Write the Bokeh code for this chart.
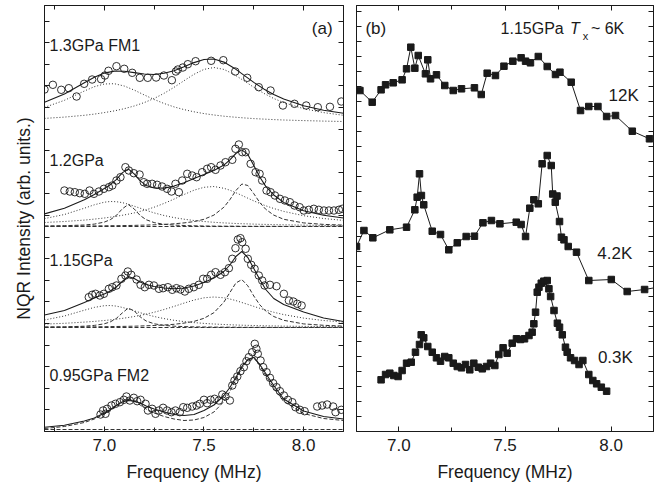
from bokeh.plotting import figure
from bokeh.models import Range1d, LinearAxis, FixedTicker, Span, Label, PrintfTickFormatter
from bokeh.layouts import row
from bokeh.embed import file_html
from bokeh.resources import INLINE

FONT = "Liberation Sans"
INK = "#1a1a1a"
COMP = "#333333"

# ---------------- panel (a): measured spectra (open circles) ----------------
SPEC1_X = [6.700, 6.742, 6.784, 6.822, 6.861, 6.899, 6.939, 6.984, 7.003, 7.021,
           7.061, 7.100, 7.140, 7.178, 7.218, 7.260, 7.299, 7.339, 7.359, 7.369,
           7.394, 7.419, 7.458, 7.536, 7.597, 7.657, 7.717, 7.775, 7.834, 7.896,
           7.954, 8.013, 8.071, 8.132, 8.189]
SPEC1_Y = [342.0, 346.7, 341.7, 343.3, 335.0, 347.7, 352.0, 352.3, 356.0, 360.7,
           365.3, 362.7, 358.7, 353.7, 353.7, 354.0, 356.0, 351.3, 360.0, 362.0,
           364.0, 367.3, 370.3, 370.7, 371.3, 360.0, 353.7, 344.3, 341.0, 326.0,
           327.7, 326.0, 324.3, 324.7, 330.0]

SPEC2_X = [6.800, 6.827, 6.852, 6.877, 6.902, 6.926, 6.948, 6.973, 6.998, 7.023,
           7.040, 7.061, 7.081, 7.106, 7.123, 7.148, 7.177, 7.198, 7.215, 7.240,
           7.265, 7.290, 7.315, 7.337, 7.357, 7.374, 7.391, 7.416, 7.441, 7.463,
           7.491, 7.516, 7.536, 7.558, 7.583, 7.608, 7.642, 7.658, 7.675, 7.692,
           7.709, 7.734, 7.759, 7.779, 7.792, 7.814, 7.834, 7.856, 7.881, 7.906,
           7.931, 7.954, 7.980, 8.001, 8.026, 8.051, 8.076, 8.102, 8.127, 8.152,
           8.177, 8.194]
SPEC2_Y = [241.0, 240.0, 239.3, 238.3, 237.7, 241.0, 237.7, 240.0, 242.7, 244.3,
           246.0, 251.0, 254.3, 264.3, 261.0, 258.3, 257.0, 249.3, 247.7, 247.7,
           246.7, 245.0, 242.7, 240.0, 247.7, 239.3, 251.0, 257.7, 256.0, 254.3,
           259.3, 262.7, 264.3, 261.7, 266.0, 269.3, 271.7, 282.7, 287.0, 279.3,
           279.3, 267.7, 259.3, 257.7, 251.0, 241.0, 239.3, 236.0, 232.7, 231.0,
           229.3, 226.0, 224.3, 221.0, 221.7, 222.7, 221.7, 221.0, 221.0, 221.0,
           221.7, 222.7]

SPEC3_X = [6.922, 6.939, 6.956, 6.978, 6.998, 7.023, 7.040, 7.061, 7.086, 7.106,
           7.118, 7.135, 7.162, 7.182, 7.203, 7.224, 7.249, 7.274, 7.295, 7.319,
           7.341, 7.362, 7.382, 7.404, 7.424, 7.449, 7.474, 7.496, 7.516, 7.536,
           7.558, 7.583, 7.605, 7.625, 7.642, 7.658, 7.670, 7.683, 7.692, 7.709,
           7.720, 7.737, 7.754, 7.775, 7.792, 7.804, 7.831, 7.864, 7.901, 7.926,
           7.948, 7.968, 7.990]
SPEC3_Y = [134.3, 136.7, 137.7, 136.0, 137.7, 142.7, 144.3, 146.0, 152.7, 156.0,
           160.0, 156.7, 152.0, 146.7, 144.3, 146.7, 146.0, 142.7, 143.3, 144.3,
           141.7, 143.3, 142.0, 140.0, 142.7, 144.3, 146.7, 152.7, 152.7, 156.7,
           159.3, 156.7, 159.3, 163.3, 172.7, 183.3, 192.0, 193.3, 189.3, 182.7,
           172.7, 166.7, 162.7, 156.0, 151.0, 146.0, 146.7, 145.3, 137.7, 131.0,
           130.0, 127.7, 126.0]

SPEC4_X = [6.981, 6.994, 7.006, 7.014, 7.036, 7.056, 7.078, 7.098, 7.111, 7.128,
           7.148, 7.165, 7.182, 7.207, 7.219, 7.240, 7.257, 7.274, 7.295, 7.315,
           7.337, 7.357, 7.379, 7.396, 7.416, 7.441, 7.463, 7.479, 7.500, 7.516,
           7.533, 7.553, 7.575, 7.592, 7.608, 7.630, 7.642, 7.653, 7.667, 7.683,
           7.700, 7.713, 7.725, 7.742, 7.755, 7.763, 7.770, 7.784, 7.797, 7.814,
           7.831, 7.847, 7.864, 7.881, 7.901, 7.921, 7.943, 7.959, 7.981, 8.005,
           8.068, 8.093, 8.118, 8.148, 8.160, 8.189]
SPEC4_Y = [17.0, 21.0, 17.7, 22.7, 26.0, 27.7, 29.3, 31.7, 35.0, 31.0,
           33.7, 30.3, 31.7, 27.7, 21.0, 22.7, 17.7, 21.0, 23.7, 21.0,
           19.3, 21.0, 19.3, 24.3, 23.7, 25.0, 26.0, 27.7, 31.7, 28.3,
           31.7, 32.7, 31.0, 37.0, 35.0, 31.0, 46.0, 51.0, 55.0, 60.3,
           64.3, 70.3, 74.3, 79.3, 87.7, 82.7, 77.7, 71.0, 64.3, 59.3,
           53.7, 48.3, 44.3, 40.3, 36.0, 31.7, 29.3, 24.3, 21.7, 20.3,
           25.0, 26.0, 27.0, 25.0, 19.3, 21.7]

# ---------------- panel (a): fit curves ----------------
FIT1_X = [6.70, 6.80, 6.90, 6.95, 7.00, 7.05, 7.10, 7.15, 7.20, 7.25, 7.30, 7.35, 7.40,
          7.45, 7.50, 7.55, 7.60, 7.65, 7.70, 7.75, 7.80, 7.85, 7.90, 8.00, 8.10, 8.20]
FIT1_TOTAL = [329.2, 337.6, 348.7, 354.2, 358.4, 360.4, 360.3, 358.9, 357.5, 357.0, 358.2,
              360.8, 364.7, 368.9, 372.0, 372.5, 369.4, 363.6, 356.4, 349.1, 342.6, 336.9,
              332.4, 325.7, 321.3, 318.2]
FIT1_C1 = [324.1, 331.2, 340.5, 344.8, 347.5, 347.8, 345.5, 341.4, 336.6, 332.0, 328.0,
           324.6, 321.9, 319.7, 317.9, 316.5, 315.3, 314.4, 313.6, 312.9, 312.4, 311.9,
           311.5, 310.9, 310.4, 310.0]
FIT1_C2 = [313.1, 314.4, 316.2, 317.4, 318.9, 320.6, 322.8, 325.5, 328.9, 333.0, 338.2,
           344.2, 350.8, 357.2, 362.1, 364.0, 362.1, 357.2, 350.8, 344.2, 338.2, 333.0,
           328.9, 322.8, 318.9, 316.2]

FIT_X = [6.70, 6.80, 6.90, 6.95, 7.00, 7.03, 7.06, 7.09, 7.12, 7.15, 7.18, 7.21, 7.25,
         7.30, 7.35, 7.40, 7.45, 7.50, 7.55, 7.60, 7.63, 7.66, 7.69, 7.72, 7.75, 7.78,
         7.81, 7.85, 7.90, 8.00, 8.10, 8.20]

FIT2_TOTAL = [217.6, 223.2, 231.7, 237.1, 242.9, 246.8, 251.8, 258.6, 262.6, 257.6, 250.6,
              246.1, 243.5, 243.4, 245.4, 248.8, 252.9, 256.9, 261.0, 266.4, 271.7, 278.0,
              281.6, 277.1, 266.0, 254.5, 245.1, 236.5, 229.1, 220.8, 216.3, 213.5]
FIT2_C1 = [212.9, 217.0, 223.3, 226.7, 229.3, 230.0, 229.8, 228.9, 227.3, 225.3, 223.3,
           221.2, 218.6, 216.0, 213.9, 212.3, 211.0, 210.0, 209.2, 208.6, 208.3, 208.0,
           207.8, 207.6, 207.4, 207.2, 207.1, 206.9, 206.7, 206.4, 206.1, 206.0]
FIT2_C2 = [205.4, 205.8, 206.5, 207.4, 209.4, 211.8, 216.0, 222.6, 227.0, 222.6, 216.0,
           211.8, 208.9, 207.2, 206.4, 206.0, 205.7, 205.5, 205.4, 205.3, 205.3, 205.3,
           205.2, 205.2, 205.2, 205.2, 205.2, 205.2, 205.1, 205.1, 205.1, 205.1]
FIT2_C3 = [209.0, 210.0, 211.4, 212.4, 213.5, 214.3, 215.2, 216.2, 217.3, 218.6, 220.1,
           221.7, 224.3, 228.1, 232.4, 237.0, 241.3, 244.2, 245.0, 243.2, 241.3, 238.8,
           236.1, 233.3, 230.6, 228.1, 225.7, 223.0, 220.1, 215.8, 213.0, 211.1]
FIT2_C4 = [205.3, 205.4, 205.5, 205.6, 205.7, 205.8, 205.8, 205.9, 206.0, 206.1, 206.3,
           206.4, 206.7, 207.1, 207.7, 208.6, 209.9, 212.2, 216.4, 224.3, 231.8, 240.9,
           247.5, 246.0, 237.8, 229.0, 222.2, 216.4, 212.2, 208.6, 207.1, 206.4]

FIT3_TOTAL = [116.5, 121.0, 129.0, 133.5, 137.5, 140.5, 144.5, 150.0, 155.0, 153.0, 149.5,
              147.0, 145.0, 143.5, 142.8, 143.5, 145.5, 149.0, 153.5, 160.0, 166.5, 175.0,
              180.0, 174.0, 163.0, 152.0, 142.0, 133.0, 127.0, 119.5, 113.5, 110.0]
FIT3_C1 = [111.5, 115.5, 121.3, 124.1, 125.8, 126.0, 125.4, 124.1, 122.5, 120.7, 118.8,
           117.1, 115.0, 112.9, 111.2, 109.9, 108.9, 108.1, 107.5, 107.0, 106.75, 106.5,
           106.3, 106.15, 106.0, 105.85, 105.7, 105.57, 105.4, 105.15, 104.96, 104.8]
FIT3_C2 = [104.4, 104.6, 105.3, 106.1, 107.7, 109.6, 113.0, 118.5, 123.4, 120.6, 114.6,
           110.5, 107.7, 106.1, 105.3, 104.9, 104.6, 104.5, 104.4, 104.3, 104.3, 104.3,
           104.2, 104.2, 104.2, 104.2, 104.2, 104.1, 104.1, 104.1, 104.1, 104.1]
FIT3_C3 = [107.4, 108.2, 109.4, 110.1, 111.0, 111.6, 112.3, 113.1, 114.0, 115.0, 116.1,
           117.4, 119.25, 122.0, 125.1, 128.4, 131.45, 133.7, 134.5, 133.7, 132.5, 130.9,
           129.0, 127.1, 125.1, 123.2, 121.4, 119.25, 116.9, 113.4, 111.0, 109.4]
FIT3_C4 = [104.4, 104.5, 104.6, 104.7, 104.8, 104.9, 105.0, 105.1, 105.2, 105.3, 105.5,
           105.7, 106.0, 106.5, 107.2, 108.4, 110.1, 113.2, 118.8, 129.4, 138.9, 148.5,
           151.9, 145.7, 135.5, 126.7, 120.4, 115.0, 111.2, 107.6, 106.2, 105.4]

FIT4_TOTAL = [4.3, 6.3, 10.5, 13.5, 18.5, 22.0, 26.0, 29.5, 31.0, 30.5, 28.5, 25.5, 22.5,
              19.5, 17.0, 16.0, 17.0, 21.0, 26.5, 36.0, 44.0, 54.0, 65.0, 72.0, 74.3, 67.0,
              58.0, 46.0, 32.5, 20.5, 15.0, 12.5]
FIT4_ALT = [3.0, 5.0, 9.0, 12.5, 17.5, 21.5, 26.0, 30.5, 32.5, 30.5, 26.5, 22.5, 18.5,
            15.0, 12.5, 11.0, 11.5, 14.0, 19.5, 30.0, 40.0, 52.0, 63.5, 71.5, 73.5, 66.0,
            56.0, 43.5, 30.0, 18.0, 13.0, 11.0]

BASELINES = [205.0, 104.0, 2.0]

LABELS_A = ["1.3GPa FM1", "1.2GPa", "1.15GPa", "0.95GPa FM2"]
LABEL_A_Y = [386, 271, 171, 56]

# ---------------- panel (b): 1.15 GPa spectra at several temperatures ----------------
K12_X = [6.816, 6.874, 6.916, 6.937, 6.973, 7.015, 7.036, 7.056, 7.075, 7.091,
         7.125, 7.136, 7.149, 7.177, 7.216, 7.256, 7.295, 7.356, 7.388, 7.416,
         7.455, 7.495, 7.537, 7.576, 7.597, 7.620, 7.657, 7.699, 7.738, 7.759,
         7.812, 7.856, 7.895, 7.938, 7.979, 8.021, 8.100, 8.181]
K12_Y = [341.0, 329.3, 341.7, 346.7, 348.7, 351.7, 362.7, 384.3, 363.3, 376.0,
         357.7, 371.7, 352.7, 356.7, 346.0, 341.0, 342.7, 343.7, 337.0, 358.3,
         356.0, 365.3, 370.3, 373.7, 370.3, 368.7, 375.0, 365.0, 357.0, 359.3,
         349.3, 321.0, 325.0, 325.0, 315.0, 316.0, 300.3, 292.7]

K42_X = [6.800, 6.835, 6.877, 6.957, 7.036, 7.075, 7.086, 7.097, 7.106, 7.117,
         7.157, 7.196, 7.235, 7.275, 7.317, 7.356, 7.396, 7.436, 7.476, 7.553,
         7.576, 7.597, 7.617, 7.636, 7.657, 7.675, 7.699, 7.718, 7.725, 7.745,
         7.737, 7.757, 7.766, 7.778, 7.798, 7.837, 7.895, 8.001, 8.076, 8.158, 8.240]
K42_Y = [185.0, 201.0, 193.7, 201.7, 204.3, 221.7, 234.3, 257.7, 236.0, 226.7,
         200.3, 197.0, 181.7, 188.7, 195.0, 195.3, 208.7, 211.0, 207.7, 209.3,
         207.0, 195.0, 223.3, 231.7, 227.7, 267.7, 276.0, 266.0, 237.5, 235.5,
         229.3, 210.0, 194.3, 191.7, 185.0, 179.3, 151.0, 152.0, 140.0, 142.0, 145.0]

K03_X = [6.916, 6.937, 6.957, 6.976, 6.996, 7.015, 7.036, 7.058, 7.078, 7.097,
         7.105, 7.117, 7.136, 7.157, 7.177, 7.196, 7.216, 7.235, 7.256, 7.275,
         7.295, 7.314, 7.334, 7.353, 7.374, 7.393, 7.413, 7.432, 7.452, 7.471,
         7.491, 7.510, 7.534, 7.554, 7.573, 7.592, 7.613, 7.628, 7.636, 7.644,
         7.652, 7.660, 7.671, 7.683, 7.699, 7.707, 7.715, 7.731, 7.747, 7.757,
         7.770, 7.785, 7.793, 7.809, 7.828, 7.849, 7.867, 7.895, 7.914, 7.932,
         7.954, 7.979]
K03_Y = [51.7, 57.0, 58.3, 56.0, 55.0, 61.0, 68.3, 69.3, 79.3, 87.0,
         96.7, 93.7, 85.0, 79.3, 73.7, 70.3, 75.0, 73.7, 68.3, 65.0,
         63.7, 67.0, 61.7, 68.3, 64.3, 62.7, 65.0, 68.3, 66.0, 77.0,
         83.7, 78.3, 88.3, 92.7, 92.0, 92.7, 96.0, 99.3, 107.7, 119.3,
         139.3, 144.3, 148.3, 150.3, 151.0, 142.7, 135.0, 121.0, 108.3, 104.3,
         96.7, 84.3, 79.3, 73.7, 71.0, 67.0, 71.0, 57.0, 51.0, 47.7,
         44.3, 40.3]

TEMPS = ["12K", "4.2K", "0.3K"]
TEMP_POS = [(7.988, 336), (7.935, 178), (7.938, 74)]

X_MAJOR = [7.0, 7.5, 8.0]
YTICKS_A = [21.6 * k for k in range(1, 20)]
YTICKS_B = [15.0 * k for k in range(1, 29)]


def style_axis(ax, ticks, minor, labels):
    ax.ticker = FixedTicker(ticks=ticks, minor_ticks=minor)
    ax.axis_line_color = INK
    ax.axis_line_width = 1
    ax.major_tick_line_color = INK
    ax.minor_tick_line_color = INK if minor else None
    ax.major_tick_in = 5
    ax.major_tick_out = 0
    ax.minor_tick_in = 4
    ax.minor_tick_out = 0
    if labels:
        ax.formatter = PrintfTickFormatter(format="%.1f")
        ax.major_label_text_font = FONT
        ax.major_label_text_font_size = "17px"
        ax.major_label_text_color = INK
        ax.major_label_standoff = 7
    else:
        # tick marks only: labels are not painted at all
        ax.major_label_text_font_size = "1px"
        ax.major_label_text_color = None
        ax.major_label_standoff = 0


def make_fig(xr, frame_w, bl, br, minor):
    p = figure(frame_width=frame_w, frame_height=426, x_range=Range1d(*xr),
               y_range=Range1d(0, 426), output_backend="svg", toolbar_location=None,
               min_border_left=bl, min_border_right=br, min_border_top=5,
               min_border_bottom=55)
    p.grid.visible = False
    p.outline_line_color = INK
    p.outline_line_width = 1
    p.background_fill_color = "white"
    p.border_fill_color = "white"
    style_axis(p.xaxis[0], X_MAJOR, minor, True)
    p.xaxis[0].axis_label = "Frequency (MHz)"
    p.xaxis[0].axis_label_text_font = FONT
    p.xaxis[0].axis_label_text_font_size = "17.5px"
    p.xaxis[0].axis_label_text_font_style = "normal"
    p.xaxis[0].axis_label_text_color = INK
    p.xaxis[0].axis_label_standoff = 8
    top = LinearAxis()
    style_axis(top, X_MAJOR, minor, False)
    p.add_layout(top, "above")
    return p


def label(p, x, y, text, size="16px", align="left", style="normal", baseline="middle"):
    p.add_layout(Label(x=x, y=y, text=text, text_font=FONT, text_font_size=size,
                       text_align=align, text_baseline=baseline, text_color=INK,
                       text_font_style=style))


# ---------------- panel (a) ----------------
p1 = make_fig((6.7, 8.2), 299, 44, 6, [6.75, 7.25, 7.75])
style_axis(p1.yaxis[0], YTICKS_A, [], False)
p1.yaxis[0].axis_label = "NQR Intensity (arb. units.)"
p1.yaxis[0].axis_label_text_font = FONT
p1.yaxis[0].axis_label_text_font_size = "17.5px"
p1.yaxis[0].axis_label_text_font_style = "normal"
p1.yaxis[0].axis_label_text_color = INK
p1.yaxis[0].axis_label_standoff = 11
r1 = LinearAxis()
style_axis(r1, YTICKS_A, [], False)
p1.add_layout(r1, "right")

for b in BASELINES:
    p1.add_layout(Span(location=b, dimension="width", line_color=COMP,
                       line_dash="4 2", line_width=1))

dot = dict(line_color=COMP, line_width=1, line_dash="1 2")
dash = dict(line_color=COMP, line_width=1, line_dash="4 2")
solid = dict(line_color=INK, line_width=1.1)

p1.line(FIT1_X, FIT1_C1, **dot)
p1.line(FIT1_X, FIT1_C2, **dot)
p1.line(FIT1_X, FIT1_TOTAL, **solid)

p1.line(FIT_X, FIT2_C1, **dot)
p1.line(FIT_X, FIT2_C3, **dot)
p1.line(FIT_X, FIT2_C2, **dash)
p1.line(FIT_X, FIT2_C4, **dash)
p1.line(FIT_X, FIT2_TOTAL, **solid)

p1.line(FIT_X, FIT3_C1, **dot)
p1.line(FIT_X, FIT3_C3, **dot)
p1.line(FIT_X, FIT3_C2, **dash)
p1.line(FIT_X, FIT3_C4, **dash)
p1.line(FIT_X, FIT3_TOTAL, **solid)

p1.line(FIT_X, FIT4_ALT, **dash)
p1.line(FIT_X, FIT4_TOTAL, **solid)

for xs, ys in [(SPEC1_X, SPEC1_Y), (SPEC2_X, SPEC2_Y), (SPEC3_X, SPEC3_Y), (SPEC4_X, SPEC4_Y)]:
    p1.scatter(xs, ys, marker="circle", size=7.5, fill_color=None,
               line_color=INK, line_width=0.9)

for t, yy in zip(LABELS_A, LABEL_A_Y):
    label(p1, 6.725, yy, t)
label(p1, 8.145, 403, "(a)", size="17px", align="right")

# ---------------- panel (b) ----------------
p2 = make_fig((6.8, 8.2), 297, 7, 9, [7.25, 7.75])
style_axis(p2.yaxis[0], YTICKS_B, [], False)
r2 = LinearAxis()
style_axis(r2, YTICKS_B, [], False)
p2.add_layout(r2, "right")

for xs, ys in [(K12_X, K12_Y), (K42_X, K42_Y), (K03_X, K03_Y)]:
    p2.line(xs, ys, line_color=INK, line_width=1)
    p2.scatter(xs, ys, marker="square", size=6.5, fill_color=INK, line_color=INK)

for t, (xx, yy) in zip(TEMPS, TEMP_POS):
    label(p2, xx, yy, t, size="17px")
label(p2, 6.842, 403, "(b)", size="17px")
label(p2, 7.479, 403, "1.15GPa")
label(p2, 7.806, 403, "T", style="italic")
label(p2, 7.866, 396, "x", size="11px")
label(p2, 7.905, 403, "~ 6K")

layout = row(p1, p2)
open("out.html", "w").write(file_html(layout, INLINE))
